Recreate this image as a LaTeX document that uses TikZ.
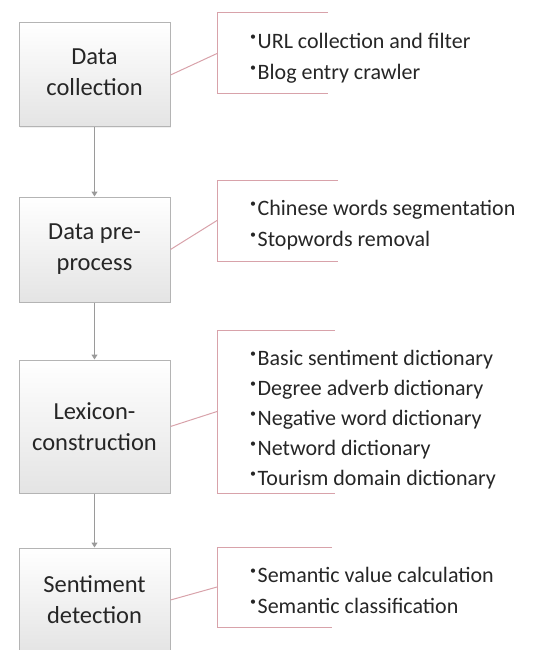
\documentclass[tikz,border=0pt]{standalone}
\usepackage{fontspec}
\setmainfont{Carlito}
\usetikzlibrary{arrows.meta,shadows}
\definecolor{boxline}{HTML}{B4B4B4}
\definecolor{boxbot}{HTML}{E4E4E4}
\definecolor{txt}{HTML}{262626}
\definecolor{brk}{HTML}{D8A2AA}
\definecolor{arr}{HTML}{9A9A9A}
\newcommand{\bul}{\raisebox{0.75ex}{\fontsize{12}{12}\selectfont\textbullet}\hspace{1.5pt}}
\tikzset{
  stepbox/.style={draw=boxline, line width=1pt, top color=white, bottom color=boxbot,
    minimum width=151pt, text=txt, align=center,
    font=\fontsize{24.5}{31}\selectfont,
    drop shadow={opacity=0.12, shadow xshift=1.2pt, shadow yshift=-1.2pt}},
  flow/.style={draw=arr, line width=1pt, -{Triangle[width=6pt,length=5pt]}},
  bracket/.style={draw=brk, line width=1pt},
  list/.style={anchor=west, align=left, text=txt, font=\fontsize{22}{31}\selectfont, inner sep=0pt}
}
\begin{document}
\begin{tikzpicture}[x=1pt,y=-1pt]
\useasboundingbox (0,0) rectangle (545,650);
\clip (0,0) rectangle (545,650);
% boxes
\node[stepbox, minimum height=104pt, text depth=6pt] (b1) at (94.5,75) {Data\\collection};
\node[stepbox, minimum height=105pt] (b2) at (94.5,249.5) {Data pre-\\process};
\node[stepbox, minimum height=133pt] (b3) at (94.5,426.5) {Lexicon-\\construction};
\node[stepbox, minimum height=104pt] (b4) at (94.5,600) {Sentiment\\detection};
% flow arrows
\draw[flow] (b1.south) -- (b2.north);
\draw[flow] (b2.south) -- (b3.north);
\draw[flow] (b3.south) -- (b4.north);
% brackets
\coordinate (k1) at (217,53.5);
\coordinate (k1t) at (328,13);
\coordinate (k1b) at (328,94);
\draw[bracket] (k1t) -- (217,13) -- (217,94) -- (k1b);
\draw[bracket] (b1.east) -- (k1);
\coordinate (k2) at (217,220.5);
\coordinate (k2t) at (338,180);
\coordinate (k2b) at (338,261);
\draw[bracket] (k2t) -- (217,180) -- (217,261) -- (k2b);
\draw[bracket] (b2.east) -- (k2);
\coordinate (k3) at (217,411.5);
\coordinate (k3t) at (335,330);
\coordinate (k3b) at (335,493);
\draw[bracket] (k3t) -- (217,330) -- (217,493) -- (k3b);
\draw[bracket] (b3.east) -- (k3);
\coordinate (k4) at (217,587);
\coordinate (k4t) at (332,547);
\coordinate (k4b) at (332,627);
\draw[bracket] (k4t) -- (217,547) -- (217,627) -- (k4b);
\draw[bracket] (b4.east) -- (k4);
% lists
\node[list] (l1) at (250,58) {\bul URL collection and filter\\\bul Blog entry crawler};
\node[list] (l2) at (250,225) {\bul Chinese words segmentation\\\bul Stopwords removal};
\node[list, font=\fontsize{22}{30}\selectfont] (l3) at (250,420) {\bul Basic sentiment dictionary\\\bul Degree adverb dictionary\\\bul Negative word dictionary\\\bul Netword dictionary\\\bul Tourism domain dictionary};
\node[list] (l4) at (250,590) {\bul Semantic value calculation\\\bul Semantic classification};
\end{tikzpicture}
\end{document}
